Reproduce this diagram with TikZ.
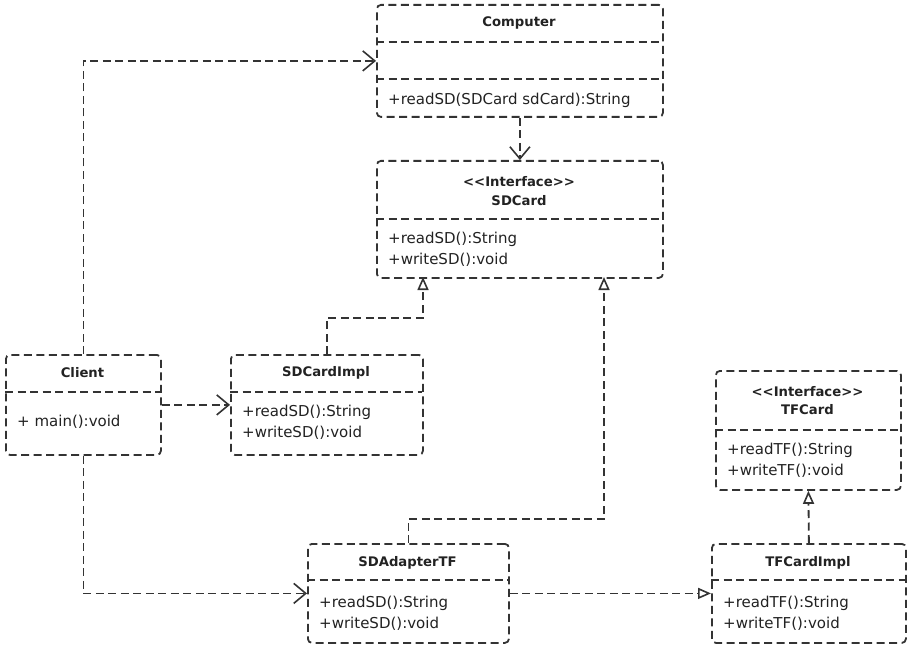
\documentclass[tikz,border=0pt]{standalone}
\usepackage{fontspec}
\setmainfont{DejaVu Sans}[Ligatures=NoCommon]
\usetikzlibrary{arrows.meta}
\definecolor{ln}{HTML}{333333}
\definecolor{tx}{HTML}{222222}
\tikzset{
  dline/.style={draw=ln, line width=1.8pt, dash pattern=on 8pt off 4.5pt},
  classbox/.style={dline, rounded corners=4pt, anchor=north west, inner sep=0pt},
  ctitle/.style={text=tx, font=\bfseries\fontsize{13.2}{18.5}\selectfont, align=center, inner sep=0pt},
  cmeth/.style={text=tx, font=\fontsize{15}{21}\selectfont, align=left, anchor=west, inner sep=0pt},
  dep/.style={dline, -{Straight Barb[length=12pt, width=20pt, line width=1.6pt]}},
  real/.style={dline, -{Triangle[open, length=13pt, width=11pt, line width=1.6pt]}},
}
\newcommand{\stereo}[1]{{<}{<}#1{>}{>}}
\begin{document}
\begin{tikzpicture}[x=1pt, y=-1pt]
\useasboundingbox[fill=white] (0,0) rectangle (913,650);

% Computer
\node[classbox, minimum width=286pt, minimum height=112pt] (computer) at (376,4) {};
\draw[dline] (376,42) -- (662,42);
\draw[dline] (376,79) -- (662,79);
\node[ctitle] (computerT) at (519,23) {Computer};
\node[cmeth] (computerM) at (388,100) {+readSD(SDCard sdCard):String};

% SDCard
\node[classbox, minimum width=286pt, minimum height=117pt] (sdcard) at (376,160) {};
\draw[dline] (376,219) -- (662,219);
\node[ctitle] (sdcardT) at (519,191) {\stereo{Interface}\\SDCard};
\node[cmeth] (sdcardM) at (388,249.5) {+readSD():String\\+writeSD():void};

% Client
\node[classbox, minimum width=155pt, minimum height=100pt] (client) at (5,354) {};
\draw[dline] (5,392) -- (160,392);
\node[ctitle] (clientT) at (82.5,373) {Client};
\node[cmeth] (clientM) at (17,422) {+ main():void};

% SDCardImpl
\node[classbox, minimum width=192pt, minimum height=100pt] (sdimpl) at (230,354) {};
\draw[dline] (230,392) -- (422,392);
\node[ctitle] (sdimplT) at (326,373) {SDCardImpl};
\node[cmeth] (sdimplM) at (242,422.5) {+readSD():String\\+writeSD():void};

% TFCard
\node[classbox, minimum width=185pt, minimum height=119pt] (tfcard) at (715,370) {};
\draw[dline] (715,430) -- (900,430);
\node[ctitle] (tfcardT) at (807.5,400.5) {\stereo{Interface}\\TFCard};
\node[cmeth] (tfcardM) at (727,460) {+readTF():String\\+writeTF():void};

% SDAdapterTF
\node[classbox, minimum width=201pt, minimum height=99pt] (adapter) at (307,543) {};
\draw[dline] (307,580) -- (508,580);
\node[ctitle] (adapterT) at (407.5,563) {SDAdapterTF};
\node[cmeth] (adapterM) at (319,613.5) {+readSD():String\\+writeSD():void};

% TFCardImpl
\node[classbox, minimum width=194pt, minimum height=99pt] (tfimpl) at (711,543) {};
\draw[dline] (711,580) -- (905,580);
\node[ctitle] (tfimplT) at (808,563) {TFCardImpl};
\node[cmeth] (tfimplM) at (723,613.5) {+readTF():String\\+writeTF():void};

% anchor points on SDCard bottom
\coordinate (sdcA) at (423,277);
\coordinate (sdcB) at (604,277);

% connectors
\draw[dep] (client.north) |- (computer.west);
\draw[dep] (computer.south) -- (sdcard.north);
\draw[real] (sdimpl.north) -- ++(0,-36) -| (sdcA);
\draw[real] (adapter.north) -- ++(0,-24) -| (sdcB);
\draw[dep] (client.east) -- (sdimpl.west);
\draw[dep] (client.south) |- (adapter.west);
\draw[real] (adapter.east) -- (tfimpl.west);
\draw[real] (tfimpl.north) -- (tfcard.south);
\end{tikzpicture}
\end{document}
